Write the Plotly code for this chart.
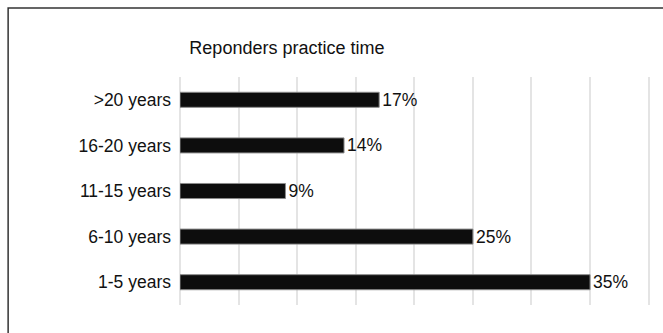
import plotly.graph_objects as go

# Share of responders by years of practice
categories = ["1-5 years", "6-10 years", "11-15 years", "16-20 years", ">20 years"]
percent = [35, 25, 9, 14, 17]
x_ticks = [0, 5, 10, 15, 20, 25, 30, 35, 40]

W, H = 663, 333
X_MAX = 40.2
px_per_unit = 469 / 40
L, T, B = 180, 77, 28
plot_w = px_per_unit * X_MAX
R = W - L - plot_w
plot_h = H - T - B

font_family = "Liberation Sans, Arial, Helvetica, sans-serif"

fig = go.Figure(
    go.Bar(
        y=categories,
        x=percent,
        orientation="h",
        marker=dict(color="#0d0d0d", line=dict(color="#8a8a8a", width=1)),
        text=[f"{v}%" for v in percent],
        textposition="outside",
        constraintext="none",
        textfont=dict(family=font_family, size=17.5, color="#111111"),
        cliponaxis=False,
        width=0.33,
    )
)

# Chart frame: left and top edges, running past the right and bottom edges
fx0 = (8 - L) / plot_w
fx1 = (W + 40 - L) / plot_w
fy0 = -(B + 40) / plot_h
fy1 = 1 + (T - 8) / plot_h
fig.add_shape(
    type="path", xref="paper", yref="paper",
    path=f"M {fx0},{fy0} L {fx0},{fy1} L {fx1},{fy1}",
    line=dict(color="#333333", width=1.5), layer="below",
)

fig.update_layout(
    width=W, height=H,
    margin=dict(l=L, r=R, t=T, b=B),
    paper_bgcolor="white", plot_bgcolor="white",
    showlegend=False,
    title=dict(
        text="Reponders practice time",
        x=(287 - L) / plot_w, xref="paper", xanchor="center",
        y=1 - (48 / H), yref="container", yanchor="middle",
        font=dict(family=font_family, size=18, color="#111111"),
    ),
    xaxis=dict(
        range=[0, X_MAX], tickvals=x_ticks, showticklabels=False,
        showgrid=True, gridcolor="#e4e4e4", gridwidth=1.5,
        zeroline=True, zerolinecolor="#e4e4e4", zerolinewidth=1.5,
        showline=False,
    ),
    yaxis=dict(
        categoryorder="array", categoryarray=categories,
        range=[-0.5, 4.5],
        showgrid=False, zeroline=False, showline=False,
        ticks="", ticklabelstandoff=8,
        tickfont=dict(family=font_family, size=17.5, color="#111111"),
    ),
)

fig.write_html(
    "out.html",
    config={"displayModeBar": False},
    post_script="document.documentElement.style.overflow='hidden';"
                "document.body.style.overflow='hidden';",
)
